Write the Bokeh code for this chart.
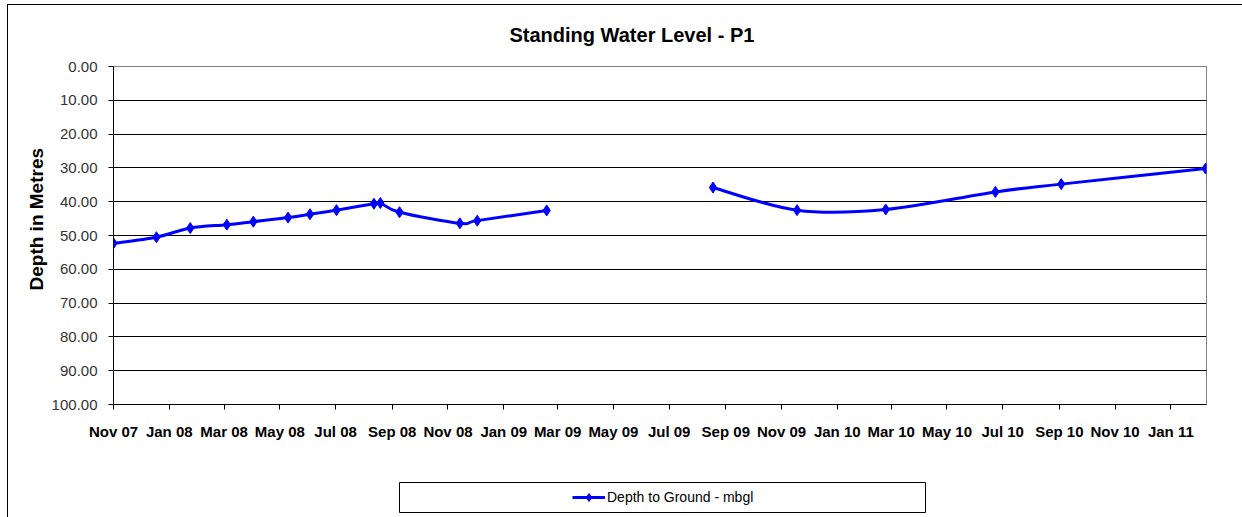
import numpy as np
import pandas as pd
from bokeh.plotting import figure
from bokeh.layouts import column
from bokeh.models import (Range1d, FixedTicker, Legend, LegendItem, Title,
                          ColumnDataSource, PrintfTickFormatter)
from bokeh.embed import file_html
from bokeh.resources import INLINE

# ---------------- data ----------------
title_text = "Standing Water Level - P1"
y_axis_title = "Depth in Metres"
series_name = "Depth to Ground - mbgl"

reading_dates = [
    "2007-11-01", "2007-12-18", "2008-01-24", "2008-03-04", "2008-04-02",
    "2008-05-10", "2008-06-03", "2008-07-02", "2008-08-12", "2008-08-19",
    "2008-09-09", "2008-11-14", "2008-12-03", "2009-02-17",
    "2009-08-18", "2009-11-18", "2010-02-23", "2010-06-23", "2010-09-03",
    "2011-02-08",
]
depth_mbgl = [
    52.3, 50.5, 47.8, 46.8, 45.9,
    44.7, 43.7, 42.5, 40.6, 40.4,
    43.1, 46.4, 45.6, 42.6,
    35.8, 42.5, 42.3, 37.1, 34.8,
    30.2,
]
# readings belong to two continuous runs (no readings Mar-Jul 2009)
reading_run = [1, 1, 1, 1, 1, 1, 1, 1, 1, 1, 1, 1, 1, 1,
               2, 2, 2, 2, 2, 2]

tick_dates = [
    "2007-11-01", "2008-01-01", "2008-03-01", "2008-05-01", "2008-07-01",
    "2008-09-01", "2008-11-01", "2009-01-01", "2009-03-01", "2009-05-01",
    "2009-07-01", "2009-09-01", "2009-11-01", "2010-01-01", "2010-03-01",
    "2010-05-01", "2010-07-01", "2010-09-01", "2010-11-01", "2011-01-01",
]
tick_labels = [
    "Nov 07", "Jan 08", "Mar 08", "May 08", "Jul 08",
    "Sep 08", "Nov 08", "Jan 09", "Mar 09", "May 09",
    "Jul 09", "Sep 09", "Nov 09", "Jan 10", "Mar 10",
    "May 10", "Jul 10", "Sep 10", "Nov 10", "Jan 11",
]
y_ticks = [0, 10, 20, 30, 40, 50, 60, 70, 80, 90, 100]
x_start, x_end = "2007-11-01", "2011-02-09"


def to_ms(d):
    return pd.to_datetime(pd.Series(d)).values.astype("datetime64[ms]").astype("int64").astype(float)


xs = to_ms(reading_dates)
ys = np.array(depth_mbgl, dtype=float)
runs = np.array(reading_run)
tick_ms = to_ms(tick_dates)

FONT = "Liberation Sans"
BLUE = "#0000ff"
W = 1242
BL, BR = 113, 36  # shared left/right borders (column aligns them)

p = figure(width=W, height=470, output_backend="svg", toolbar_location=None,
           x_range=Range1d(to_ms([x_start])[0], to_ms([x_end])[0]),
           y_range=Range1d(100, 0),
           min_border_left=BL, min_border_right=BR,
           min_border_top=66, min_border_bottom=66,
           background_fill_color="white", border_fill_alpha=0)

# title (placed with left alignment + offset)
p.title.text = title_text
p.title.align = "left"
p.title.offset = 396
p.title.text_font = FONT
p.title.text_font_size = "20px"
p.title.text_font_style = "bold"
p.title.text_color = "black"
p.title.standoff = 42

p.outline_line_color = "#808080"
p.outline_line_width = 1
p.xgrid.visible = False
p.ygrid.grid_line_color = "black"
p.ygrid.grid_line_width = 1
p.ygrid.ticker = FixedTicker(ticks=y_ticks)

# y axis
ya = p.yaxis[0]
ya.ticker = FixedTicker(ticks=y_ticks)
ya.formatter = PrintfTickFormatter(format="%.2f")
ya.major_label_text_font = FONT
ya.major_label_text_font_size = "15px"
ya.major_label_text_color = "#333333"
ya.major_tick_out = 5
ya.major_tick_in = 0
ya.minor_tick_out = 0
ya.minor_tick_in = 0
ya.major_label_standoff = 11
ya.axis_line_color = "black"
ya.major_tick_line_color = "black"

# y axis title as a side title
p.add_layout(Title(text=y_axis_title, align="left", offset=114,
                   text_font=FONT, text_font_size="19px", text_font_style="bold",
                   text_color="black", standoff=4), "left")

# x axis
xa = p.xaxis[0]
xa.ticker = FixedTicker(ticks=list(tick_ms))
xa.major_label_overrides = {float(t): lab for t, lab in zip(tick_ms, tick_labels)}
xa.major_label_text_font = FONT
xa.major_label_text_font_size = "15px"
xa.major_label_text_font_style = "bold"
xa.major_label_text_color = "black"
xa.major_tick_out = 5
xa.major_tick_in = 0
xa.minor_tick_out = 0
xa.minor_tick_in = 0
xa.major_label_standoff = 13
xa.axis_line_color = "black"
xa.major_tick_line_color = "black"

# smoothed line (Excel-like Bezier smoothing), one curve per run
for r in np.unique(runs):
    m = runs == r
    px, py = xs[m], ys[m]
    n = len(px)
    x0, y0, x1, y1, cx0, cy0, cx1, cy1 = [], [], [], [], [], [], [], []
    for i in range(n - 1):
        a = i - 1 if i > 0 else i
        d = i + 2 if i + 2 < n else i + 1
        x0.append(px[i]); y0.append(py[i])
        x1.append(px[i + 1]); y1.append(py[i + 1])
        cx0.append(px[i] + (px[i + 1] - px[a]) / 6.0)
        cy0.append(py[i] + (py[i + 1] - py[a]) / 6.0)
        cx1.append(px[i + 1] - (px[d] - px[i]) / 6.0)
        cy1.append(py[i + 1] - (py[d] - py[i]) / 6.0)
    p.bezier(x0=x0, y0=y0, x1=x1, y1=y1, cx0=cx0, cy0=cy0, cx1=cx1, cy1=cy1,
             line_color=BLUE, line_width=3)

src = ColumnDataSource(data=dict(x=xs, y=ys))
p.scatter("x", "y", source=src, marker="diamond", size=11,
          fill_color=BLUE, line_color=BLUE)

# ---------------- legend strip (second figure, pixel-unit ranges) ----------
LG_TOP = 470
lg = figure(width=W, height=47, output_backend="svg", toolbar_location=None,
            x_range=Range1d(BL, W - BR), y_range=Range1d(516, 478),
            x_axis_location=None, y_axis_location=None,
            min_border_left=BL, min_border_right=BR,
            min_border_top=478 - LG_TOP, min_border_bottom=LG_TOP + 47 - 516,
            background_fill_alpha=0, border_fill_alpha=0)
lg.grid.visible = False
lg.outline_line_color = None
# legend frame box
lg.quad(left=399, right=925, top=482, bottom=512,
        fill_color="white", line_color="black", line_width=1)
# off-range proxies used only for the legend glyph
lr = lg.line(x=[0, 1], y=[0, 0], line_color=BLUE, line_width=3)
sr = lg.scatter(x=[0], y=[0], marker="diamond", size=10,
                fill_color=BLUE, line_color=BLUE)
legend = Legend(items=[LegendItem(label=series_name, renderers=[lr, sr])],
                location=(572 - BL, 516 - 507), margin=0, padding=0,
                glyph_width=33, glyph_height=20, label_height=20,
                label_standoff=2, label_text_font=FONT,
                label_text_font_size="14px", label_text_color="black",
                border_line_alpha=0, background_fill_alpha=0)
lg.add_layout(legend)

layout = column(p, lg, spacing=0, styles={
    "background-color": "white",
    "background-image": "linear-gradient(black, black), linear-gradient(black, black)",
    "background-size": "1px 100%, 100% 1px",
    "background-position": "7px 4px, 7px 4px",
    "background-repeat": "no-repeat",
})

open("out.html", "w").write(file_html(layout, INLINE))
